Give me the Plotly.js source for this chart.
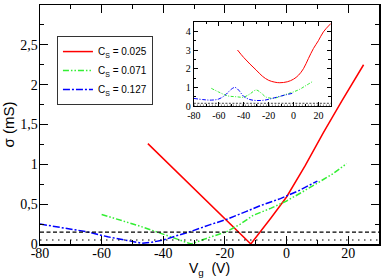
<!DOCTYPE html>
<html>
<head>
<meta charset="utf-8">
<script src="https://cdn.plot.ly/plotly-3.0.1.min.js"></script>
<style>html,body{margin:0;padding:0;background:#fff;}#chart{width:382px;height:278px;}</style>
</head>
<body>
<div id="chart"></div>
<script>
// ---- main panel data ----
const seriesNames = ['C<sub>S</sub> = 0.025', 'C<sub>S</sub> = 0.071', 'C<sub>S</sub> = 0.127'];
const redV = [-45, -30, -19.4, -11.6, -5, 0, 6, 12, 18, 25];
const redS = [1.26, 0.69, 0.30, 0.0, 0.33, 0.59, 0.98, 1.40, 1.80, 2.25];
const greenV = [-60, -54, -48, -42, -36, -31, -26, -19.4, -15, -10.8, -5, 0, 5, 10, 15, 19.5];
const greenS = [0.37, 0.30, 0.23, 0.15, 0.07, 0.0, 0.07, 0.155, 0.25, 0.36, 0.45, 0.54, 0.65, 0.76, 0.88, 1.01];
const blueV = [-80, -72, -65, -58, -51, -47, -44, -40, -36, -31.6, -25, -19.4, -13, -8.6, -2, 4, 10];
const blueS = [0.25, 0.20, 0.155, 0.09, 0.04, 0.01, 0.02, 0.05, 0.10, 0.15, 0.24, 0.31, 0.41, 0.48, 0.57, 0.67, 0.79];
const refLevels = [0.15, 0.05];
const refV = [-80, 30];

// ---- inset data ----
const insetRedV = [-45, -40, -35, -30, -25, -20, -15, -11, -5, 0, 4, 8, 12, 16, 20, 24, 30];
const insetRedS = [3.0, 2.6, 2.25, 1.93, 1.6, 1.38, 1.28, 1.25, 1.30, 1.44, 1.65, 2.0, 2.55, 3.08, 3.5, 3.97, 4.42];
const insetGreenV = [-66, -60, -53, -46, -40, -35, -30, -26, -22, -16, -10, -5, 0, 5, 10, 15];
const insetGreenS = [0.95, 0.75, 0.55, 0.50, 0.48, 0.65, 0.86, 0.70, 0.48, 0.42, 0.53, 0.65, 0.76, 0.90, 1.10, 1.30];
const insetBlueV = [-80, -73, -66, -60, -55, -50, -47, -44, -40, -35, -30, -23, -15, -7, -1];
const insetBlueS = [0.41, 0.35, 0.32, 0.38, 0.58, 0.90, 1.0, 0.85, 0.52, 0.35, 0.30, 0.32, 0.45, 0.59, 0.68];

// ---- ticks ----
const xTickVals = [-80, -60, -40, -20, 0, 20];
const xTickText = ['-80', '-60', '-40', '-20', '0', '20'];
const yTickVals = [0, 0.5, 1, 1.5, 2, 2.5, 3];
const yTickText = ['0', '0,5', '1', '1,5', '2', '2,5', '3'];
const inYTickVals = [0, 1, 2, 3, 4];
const inYTickText = ['0', '1', '2', '3', '4'];

const colors = ['#ff0000', '#33ee33', '#0000ff'];
const dashes = ['solid', '6px,2px,1.5px,2px,1.5px,2px', '7px,2px,2px,2px'];

const traces = [];
const mainSets = [[redV, redS], [greenV, greenS], [blueV, blueS]];
mainSets.forEach((s, i) => {
  traces.push({x: s[0], y: s[1], type: 'scatter', mode: 'lines', name: seriesNames[i],
    line: {color: colors[i], width: 1.5, dash: dashes[i]}, xaxis: 'x', yaxis: 'y'});
});
refLevels.forEach((lv, i) => {
  traces.push({x: refV, y: [lv, lv], type: 'scatter', mode: 'lines', showlegend: false,
    line: {color: '#000', width: 1.2, dash: i === 0 ? '4px,2.5px' : '1.5px,4.5px'}, xaxis: 'x', yaxis: 'y'});
});
const insetSets = [[insetRedV, insetRedS], [insetGreenV, insetGreenS], [insetBlueV, insetBlueS]];
insetSets.forEach((s, i) => {
  traces.push({x: s[0], y: s[1], type: 'scatter', mode: 'lines', showlegend: false, line: {shape: 'spline',
    color: colors[i], width: 1, dash: i === 0 ? 'solid' : (i === 1 ? '3px,1.5px,1px,1.5px' : '4px,1.5px,1px,1.5px')}, xaxis: 'x2', yaxis: 'y2'});
});
refLevels.forEach((lv, i) => {
  traces.push({x: refV, y: [lv, lv], type: 'scatter', mode: 'lines', showlegend: false,
    line: {color: '#444', width: 1, dash: i === 0 ? '2px,1.5px' : '1px,2px'}, xaxis: 'x2', yaxis: 'y2'});
});

const serif = 'Liberation Serif';
const sans = 'Liberation Sans';

const layout = {
  width: 382, height: 278,
  font: {family: sans, color: '#000'},
  margin: {l: 40, r: 3, t: 5, b: 34},
  paper_bgcolor: '#fff', plot_bgcolor: '#fff',
  showlegend: true,
  legend: {x: 0.05, y: 0.870, xanchor: 'left', yanchor: 'top', bordercolor: '#333', borderwidth: 1,
    bgcolor: '#fff', font: {family: sans, size: 10, color: '#000'}},
  xaxis: {range: [-80, 30], domain: [0, 1], anchor: 'y', tickmode: 'array', tickvals: xTickVals, ticktext: xTickText,
    ticks: 'inside', ticklen: 8, tickwidth: 1, tickcolor: '#000', showline: true, linewidth: 1.5, linecolor: '#000',
    mirror: 'ticks', showgrid: false, zeroline: false, ticklabelstandoff: -4,
    minor: {tickmode: 'linear', tick0: 0, dtick: 10, ticks: 'inside', ticklen: 4, tickcolor: '#000', showgrid: false},
    tickfont: {family: serif, size: 14, color: '#000'},
    title: {text: 'V<sub>g</sub>  (V)', font: {family: sans, size: 14, color: '#000'}, standoff: 6}},
  yaxis: {range: [0, 3], domain: [0, 1], anchor: 'x', tickmode: 'array', tickvals: yTickVals, ticktext: yTickText,
    ticks: 'inside', ticklen: 8, tickwidth: 1, tickcolor: '#000', showline: true, linewidth: 1.5, linecolor: '#000',
    mirror: 'ticks', showgrid: false, zeroline: false, ticklabelstandoff: -2,
    minor: {tickmode: 'linear', tick0: 0, dtick: 0.25, ticks: 'inside', ticklen: 4, tickcolor: '#000', showgrid: false},
    tickfont: {family: serif, size: 14, color: '#000'},
    title: {text: 'σ (mS)', font: {family: sans, size: 15, color: '#000'}, standoff: 2}},
  xaxis2: {range: [-80, 30], domain: [0.454, 0.858], anchor: 'y2', tickmode: 'array', tickvals: xTickVals, ticktext: xTickText,
    ticks: 'inside', ticklen: 4, tickwidth: 1, tickcolor: '#000', showline: true, linewidth: 1.2, linecolor: '#000',
    mirror: 'ticks', showgrid: false, zeroline: false,
    minor: {tickmode: 'linear', tick0: 0, dtick: 10, ticks: 'inside', ticklen: 2.5, tickcolor: '#000', showgrid: false},
    tickfont: {family: serif, size: 10, color: '#000'}},
  yaxis2: {range: [0, 4.5], domain: [0.577, 0.929], anchor: 'x2', tickmode: 'array', tickvals: inYTickVals, ticktext: inYTickText,
    ticks: 'inside', ticklen: 4, tickwidth: 1, tickcolor: '#000', showline: true, linewidth: 1.2, linecolor: '#000',
    mirror: 'ticks', showgrid: false, zeroline: false,
    minor: {tickmode: 'linear', tick0: 0, dtick: 0.5, ticks: 'inside', ticklen: 2.5, tickcolor: '#000', showgrid: false},
    tickfont: {family: serif, size: 10, color: '#000'}}
};

Plotly.newPlot('chart', traces, layout, {displayModeBar: false, staticPlot: true});
</script>
</body>
</html>
